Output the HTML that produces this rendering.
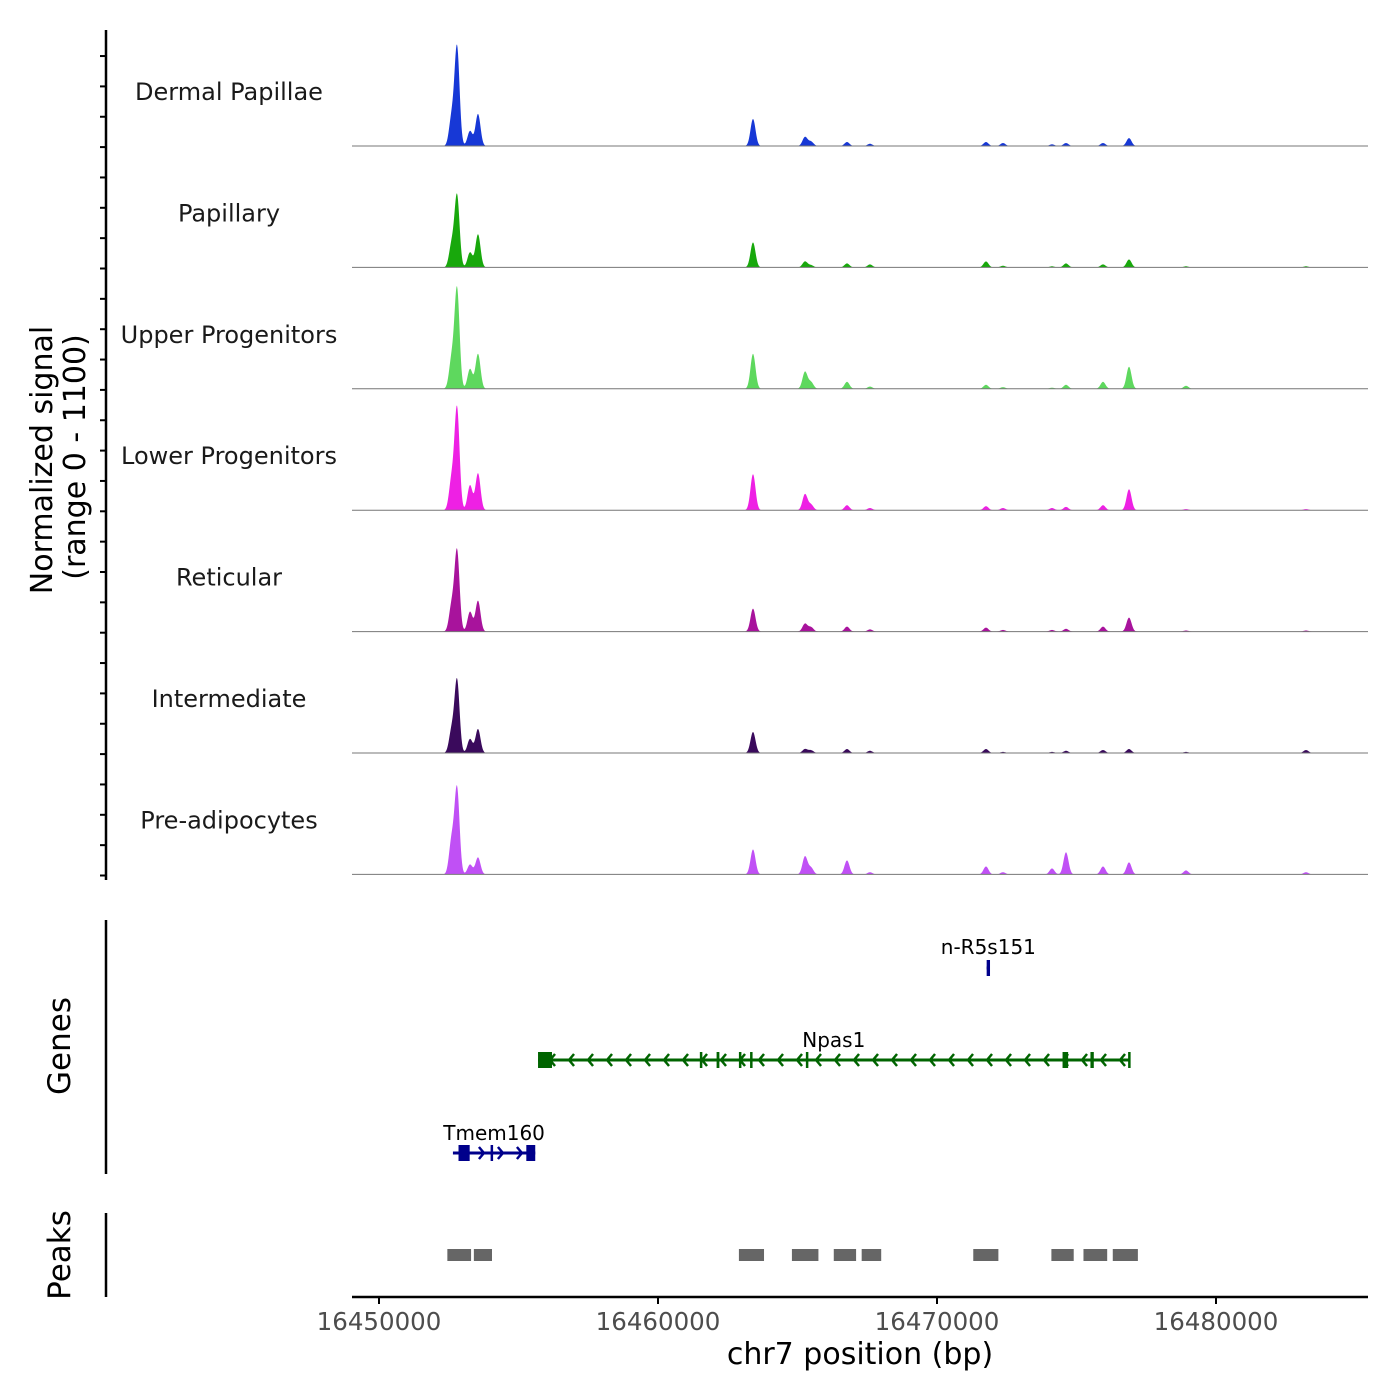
<!DOCTYPE html>
<html><head><meta charset="utf-8"><style>
html,body{margin:0;padding:0;background:#fff}
svg{display:block;font-family:"DejaVu Sans","Liberation Sans",sans-serif}
</style></head><body>
<svg id="chart" width="1400" height="1400" viewBox="0 0 1400 1400" xmlns="http://www.w3.org/2000/svg">
<g id="tracks"></g>
<g id="yaxis"></g>
<text transform="translate(52,460) rotate(-90)" text-anchor="middle" font-size="30" fill="#000">Normalized signal</text>
<text transform="translate(85,457) rotate(-90)" text-anchor="middle" font-size="30" fill="#000">(range 0 - 1100)</text>
<line x1="106" y1="920" x2="106" y2="1174" stroke="#000" stroke-width="2.5"/>
<text transform="translate(70,1046) rotate(-90)" text-anchor="middle" font-size="31">Genes</text>
<line x1="106" y1="1213" x2="106" y2="1297" stroke="#000" stroke-width="2.5"/>
<text transform="translate(70,1255) rotate(-90)" text-anchor="middle" font-size="31">Peaks</text>
<g id="genes"></g>
<g id="peaks"></g>
<g id="xaxis"></g>
<text x="860" y="1364" text-anchor="middle" font-size="30">chr7 position (bp)</text>
</svg>
<script>
const NS="http://www.w3.org/2000/svg";
// ---- data ----
const trackNames=["Dermal Papillae","Papillary","Upper Progenitors","Lower Progenitors","Reticular","Intermediate","Pre-adipocytes"];
const trackColors=["#1738d6","#18a80c","#5ed85e","#ee20e4","#a8139c","#3a0a5c","#c050f5"];
const peakPos=[16452796,16452600,16453262,16453548,16463405,16465269,16465484,16466774,16467598,16471756,16472365,16474122,16474624,16475950,16476882,16478925,16483226];
const sigDermal=[897,250,136,290,245,82,40,36,20,36,27,15,27,27,72,0,0];
const sigPapillary=[652,200,136,300,226,54,20,36,27,54,15,10,36,27,72,10,10];
const sigUpper=[906,260,180,317,317,154,60,63,20,36,15,10,36,63,200,27,0];
const sigLower=[924,270,226,335,326,145,50,45,20,36,20,20,30,45,190,10,10];
const sigReticular=[734,230,180,280,208,72,40,45,20,36,15,15,25,45,127,10,10];
const sigIntermediate=[661,200,127,217,190,36,25,36,20,36,10,10,20,27,36,10,27];
const sigPreadip=[779,300,90,154,226,163,60,127,20,72,20,54,200,72,109,36,20];
const signals=[sigDermal,sigPapillary,sigUpper,sigLower,sigReticular,sigIntermediate,sigPreadip];
const xTicks=[16450000,16460000,16470000,16480000];
const genes=[
 {name:"Npas1",start:16455700,end:16476900,strand:-1,y:1060,color:"#006400",labelY:1049,exons:[[16455700,16456200],[16461500,16461560],[16462100,16462200],[16462900,16462960],[16463300,16463350],[16465300,16465340],[16474500,16474700],[16475500,16475620],[16476850,16476900]]},
 {name:"n-R5s151",start:16471780,end:16471900,strand:-1,y:968,color:"#00008b",labelY:956,exons:[[16471780,16471900]]},
 {name:"Tmem160",start:16452650,end:16455600,strand:1,y:1153,color:"#00008b",labelY:1142,exons:[[16452850,16453250],[16454000,16454060],[16455280,16455600]]}
];
const peakStarts=[16452450,16453400,16462900,16464800,16466300,16467300,16471300,16474100,16475250,16476300];
const peakEnds=[16453300,16454050,16463800,16465750,16467100,16468000,16472200,16474900,16476100,16477200];
// ---- scales ----
const X0=16450000, PX0=379, PXPER=0.0279;
function xs(bp){return PX0+(bp-X0)*PXPER;}
const trackH=121.4, firstBase=146;
function ys(v,i){return firstBase+i*trackH - v/1100*trackH;}
function mk(tag,attrs,parent){const e=document.createElementNS(NS,tag);for(const k in attrs)e.setAttribute(k,attrs[k]);parent.appendChild(e);return e;}
// ---- tracks ----
const tg=document.getElementById("tracks");
signals.forEach((sig,i)=>{
  const base=firstBase+i*trackH;
  let pts=[];
  for(let px=352;px<=1368;px+=0.5){
    const bp=X0+(px-PX0)/PXPER;
    let v=0;
    peakPos.forEach((p,k)=>{const d=(bp-p)/90;v+=sig[k]*Math.exp(-d*d/2);});
    pts.push(px.toFixed(1)+","+ys(Math.min(v,1100),i).toFixed(1));
  }
  const poly=mk("polygon",{points:"352,"+base+" "+pts.join(" ")+" 1368,"+base,fill:trackColors[i]},tg);
  
  
  const bl=mk("line",{x1:352,x2:1368,y1:base,y2:base,stroke:"#777","stroke-width":1},tg);
  
  
  const t=mk("text",{x:229,y:base-46,"text-anchor":"middle","font-size":24,fill:"#1a1a1a"},tg);
  
  
  t.textContent=trackNames[i];
});
// ---- y axis ----
const ya=document.getElementById("yaxis");
mk("line",{x1:106,y1:30,x2:106,y2:880,stroke:"#000","stroke-width":2.5},ya);
for(let y=875.5;y>35;y-=trackH/4){mk("line",{x1:100,x2:106,y1:y,y2:y,stroke:"#000","stroke-width":2},ya);}
// ---- genes ----
const gg=document.getElementById("genes");
genes.forEach(g=>{
  const grp=mk("g",{},gg);
  
  
  const x1=xs(g.start),x2=xs(g.end);
  mk("line",{x1:x1,x2:x2,y1:g.y,y2:g.y,stroke:g.color,"stroke-width":3},grp);
  for(let x=x1+12;x<x2-6;x+=19){
    const d=g.strand*5;
    mk("polyline",{points:(x-d)+","+(g.y-6)+" "+x+","+g.y+" "+(x-d)+","+(g.y+6),fill:"none",stroke:g.color,"stroke-width":2.5},grp);
  }
  g.exons.forEach(e=>{const a=xs(e[0]),b=xs(e[1]);mk("rect",{x:a,y:g.y-8,width:Math.max(b-a,2.5),height:16,fill:g.color},grp);});
  const t=mk("text",{x:(x1+x2)/2,y:g.labelY-2,"text-anchor":"middle","font-size":20,fill:"#000"},grp);
  
  
  t.textContent=g.name;
});
// ---- peaks ----
const pg=document.getElementById("peaks");
peakStarts.forEach((s,i)=>{
  const r=mk("rect",{x:xs(s),y:1249,width:xs(peakEnds[i])-xs(s),height:12,fill:"#666"},pg);
  
  
});
// ---- x axis ----
const xa=document.getElementById("xaxis");
mk("line",{x1:352,x2:1368,y1:1297,y2:1297,stroke:"#000","stroke-width":2.5},xa);
xTicks.forEach(v=>{
  const x=xs(v);
  mk("line",{x1:x,x2:x,y1:1297,y2:1304,stroke:"#000","stroke-width":2},xa);
  const t=mk("text",{x:x,y:1330,"text-anchor":"middle","font-size":24.5,fill:"#4d4d4d"},xa);
  
  
  t.textContent=v;
});
</script>
</body></html>
